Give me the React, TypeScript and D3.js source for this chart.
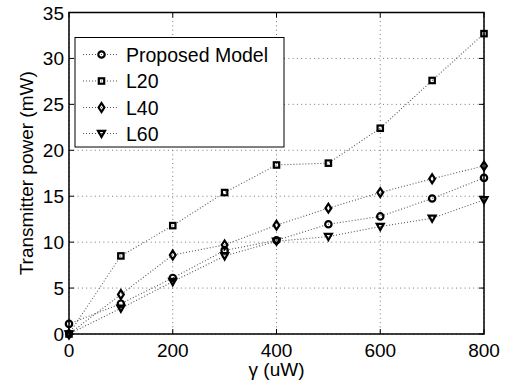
import React from "react";
import * as d3 from "d3";

const xValues = [0, 100, 200, 300, 400, 500, 600, 700, 800];
const proposed = [1.1, 3.3, 6.1, 9.1, 10.2, 11.95, 12.8, 14.75, 17.0];
const l20 = [0, 8.5, 11.8, 15.4, 18.4, 18.6, 22.4, 27.6, 32.7];
const l40 = [0, 4.3, 8.6, 9.7, 11.85, 13.7, 15.4, 16.9, 18.3];
const l60 = [0, 2.8, 5.7, 8.5, 10.1, 10.6, 11.7, 12.6, 14.6];
const seriesNames = ["Proposed Model", "L20", "L40", "L60"];
const markerTypes = ["circle", "square", "diamond", "triangle"];
const xTicks = [0, 200, 400, 600, 800];
const yTicks = [0, 5, 10, 15, 20, 25, 30, 35];
const xLabel = "γ (uW)";
const yLabel = "Transmitter power (mW)";

const W = 512, H = 387;
const m = { left: 69, right: 484, top: 12.5, bottom: 334 };
const FONT = "'Liberation Sans', Arial, Helvetica, sans-serif";

function Marker({ type, x, y }: { type: string; x: number; y: number }) {
  const sw = 2.2;
  if (type === "circle") return <circle cx={x} cy={y} r={3.2} fill="none" stroke="#000" strokeWidth={sw} />;
  if (type === "square") return <rect x={x - 2.7} y={y - 2.7} width={5.4} height={5.4} fill="none" stroke="#000" strokeWidth={sw} />;
  if (type === "diamond") return <path d={`M${x},${y - 4.4} L${x + 2.9},${y} L${x},${y + 4.4} L${x - 2.9},${y} Z`} fill="none" stroke="#000" strokeWidth={sw} />;
  return <path d={`M${x - 3.5},${y - 2.7} L${x + 3.5},${y - 2.7} L${x},${y + 3.5} Z`} fill="none" stroke="#000" strokeWidth={sw} />;
}

export default function App() {
  const x = d3.scaleLinear().domain([0, 800]).range([m.left, m.right]);
  const y = d3.scaleLinear().domain([0, 35]).range([m.bottom, m.top]);
  const series = [proposed, l20, l40, l60];
  const line = d3.line<number>().x((_, i) => x(xValues[i])).y((v) => y(v));
  const tickLen = 5;

  const legend = { x: 75, y: 37.5, w: 209, h: 109.5 };
  const legendRows = [54.5, 81, 107.5, 133.5];

  return (
    <svg width={W} height={H} style={{ position: "absolute", left: 0, top: 0, background: "#fff" }} fontFamily={FONT}>
      <rect x={0} y={0} width={W} height={H} fill="#fff" />
      {xTicks.map((t) => (
        <line key={"gx" + t} x1={x(t)} x2={x(t)} y1={m.top} y2={m.bottom} stroke="#777" strokeWidth={1} strokeDasharray="1 3.3" />
      ))}
      {yTicks.map((t) => (
        <line key={"gy" + t} x1={m.left} x2={m.right} y1={y(t)} y2={y(t)} stroke="#777" strokeWidth={1} strokeDasharray="1 3.3" />
      ))}
      {series.map((s, i) => (
        <path key={"l" + i} d={line(s) || ""} fill="none" stroke="#555" strokeWidth={1.1} strokeDasharray="1 2" />
      ))}
      {series.map((s, i) =>
        s.map((v, j) => <Marker key={"m" + i + "-" + j} type={markerTypes[i]} x={x(xValues[j])} y={y(v)} />)
      )}
      <rect x={m.left} y={m.top} width={m.right - m.left} height={m.bottom - m.top} fill="none" stroke="#000" strokeWidth={1.5} />
      {xTicks.map((t) => (
        <g key={"tx" + t}>
          <line x1={x(t)} x2={x(t)} y1={m.bottom} y2={m.bottom - tickLen} stroke="#000" strokeWidth={1} />
          <line x1={x(t)} x2={x(t)} y1={m.top} y2={m.top + tickLen} stroke="#000" strokeWidth={1} />
          <text x={x(t)} y={357} textAnchor="middle" fontSize={19} fill="#000">{t}</text>
        </g>
      ))}
      {yTicks.map((t) => (
        <g key={"ty" + t}>
          <line x1={m.left} x2={m.left + tickLen} y1={y(t)} y2={y(t)} stroke="#000" strokeWidth={1} />
          <line x1={m.right} x2={m.right - tickLen} y1={y(t)} y2={y(t)} stroke="#000" strokeWidth={1} />
          <text x={64} y={y(t) + 7} textAnchor="end" fontSize={19} fill="#000">{t}</text>
        </g>
      ))}
      <text x={(m.left + m.right) / 2} y={376} textAnchor="middle" fontSize={19} fill="#000">{xLabel}</text>
      <text transform={`translate(33,${(m.top + m.bottom) / 2}) rotate(-90)`} textAnchor="middle" fontSize={19} fill="#000">{yLabel}</text>
      <rect x={legend.x} y={legend.y} width={legend.w} height={legend.h} fill="#fff" stroke="#000" strokeWidth={1} />
      {seriesNames.map((name, i) => (
        <g key={"lg" + i}>
          <line x1={83} x2={119} y1={legendRows[i]} y2={legendRows[i]} stroke="#555" strokeWidth={1.1} strokeDasharray="1 2" />
          <Marker type={markerTypes[i]} x={101.5} y={legendRows[i]} />
          <text x={126} y={legendRows[i] + 7} fontSize={19.5} fill="#000">{name}</text>
        </g>
      ))}
    </svg>
  );
}
